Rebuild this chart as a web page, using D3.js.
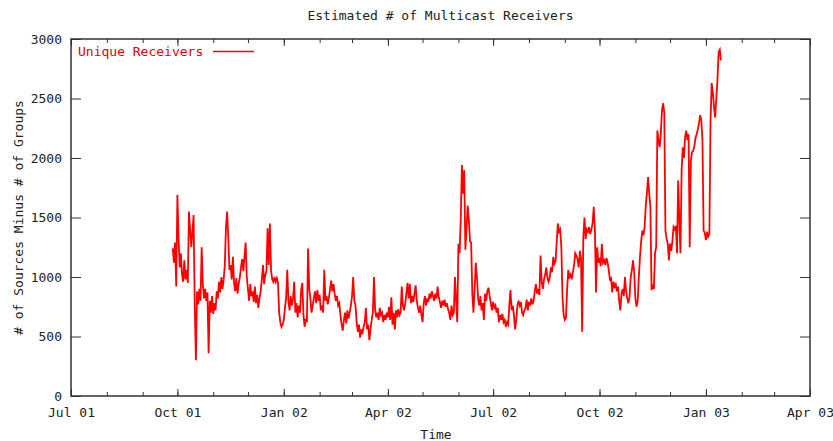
<!DOCTYPE html>
<html>
<head>
<meta charset="utf-8">
<script src="https://cdn.jsdelivr.net/npm/d3@7"></script>
<style>
  html, body { margin: 0; padding: 0; background: #fff; }
  svg { display: block; }
  text { font-family: "DejaVu Sans Mono", "Liberation Mono", monospace; font-size: 13px; fill: #222; }
</style>
</head>
<body>
<svg id="chart" width="833" height="441"></svg>
<script>
// Daily estimate of unique multicast receivers, one value per day from the start date
const seriesName = "Unique Receivers";
const seriesStart = "2001-09-27";
const receivers = [
  1240,1120,1290,920,1690,1330,1080,
  1200,1020,960,1140,980,1060,950,
  1550,1400,1250,1380,1520,
  760,300,
  880,770,900,800,
  1250,
  940,820,900,800,870,
  360,
  800,700,840,690,780,720,
  880,820,960,870,1000,900,980,
  1100,1420,1550,
  1330,1060,1100,980,1170,950,
  880,990,860,940,1000,
  1080,1150,1050,1170,1290,1000,
  900,800,940,840,880,790,920,
  780,850,740,820,
  880,980,1100,940,1020,
  1050,1410,1100,1450,1050,
  980,960,1000,960,990,950,
  700,620,580,
  600,640,
  740,820,1060,800,
  720,840,760,820,
  960,
  700,780,660,760,700,
  890,950,
  680,580,650,620,
  1240,
  900,820,700,760,
  820,880,780,890,800,850,
  720,760,700,
  1060,
  800,840,770,820,
  900,970,880,940,860,
  800,840,760,780,
  680,600,550,
  640,700,610,720,650,700,
  760,840,1000,800,760,
  620,540,600,490,560,520,
  580,620,740,560,600,470,
  560,640,
  700,1000,
  720,660,700,640,740,680,
  700,620,680,640,700,660,750,640,
  830,600,700,560,
  720,660,730,680,700,
  920,
  760,720,780,
  860,950,820,940,
  780,840,790,860,930,800,
  740,700,760,680,620,
  780,840,760,820,790,
  860,820,880,840,
  800,860,820,920,830,
  790,740,800,760,810,750,780,
  730,700,640,760,680,
  700,1000,800,620,
  1280,1200,1480,
  1940,1700,1900,
  1230,
  1400,1600,
  1480,1300,1290,
  860,700,
  900,1120,
  1000,
  820,760,840,720,780,640,
  860,800,880,910,840,
  780,720,790,740,760,700,740,620,
  680,640,690,620,
  640,580,620,600,
  760,890,720,760,
  680,560,640,
  760,800,760,790,
  700,680,720,
  740,810,720,790,760,820,
  770,800,
  880,940,860,900,
  850,
  1180,
  960,900,980,
  1020,1080,990,
  960,1000,
  1080,1040,1170,
  1110,1130,
  1300,1450,1380,1400,
  1250,
  830,
  680,640,660,
  900,1060,1000,
  1020,980,1040,
  1100,1200,1180,
  1150,1080,1220,
  1150,540,
  1340,
  1500,1320,
  1400,
  1380,1420,1360,
  1400,1450,1590,
  1400,
  870,
  1250,
  1120,1160,1090,1280,1120,
  1140,1100,1160,1120,
  1060,980,
  990,870,960,920,
  940,880,920,800,720,
  860,900,840,1000,880,
  820,780,840,
  1000,1060,1140,1040,
  820,750,800,
  1000,1170,1300,
  1390,1350,1420,
  1600,1710,1840,
  1700,1590,
  890,
  920,900,
  1200,1250,
  2230,
  2150,2090,2200,
  2400,2460,2380,
  1390,
  1320,1280,
  1140,
  1280,1220,1300,
  1420,1400,1430,
  1200,
  1810,
  1480,
  1200,
  1900,2090,2000,
  2180,2230,2150,2200,
  1250,
  1980,2050,
  2060,2100,
  2170,2200,
  2240,2290,2360,2320,2150,
  1390,1370,1310,1380,1340,1360,
  2320,2630,2550,2430,2340,2500,2660,2890,2910,2820
];

// Axis settings
const xDomain = ["2001-07-01", "2003-04-01"];
const yTicks = [0, 500, 1000, 1500, 2000, 2500, 3000];
const titleText = "Estimated # of Multicast Receivers";
const xLabel = "Time";
const yLabel = "# of Sources Minus # of Groups";

const parse = d3.timeParse("%Y-%m-%d");
const start = parse(seriesStart);

const svg = d3.select("#chart");
const plot = { left: 71, right: 810, top: 39, bottom: 396 };

const x = d3.scaleTime().domain(xDomain.map(parse)).range([plot.left, plot.right]);
const y = d3.scaleLinear().domain([0, 3000]).range([plot.bottom, plot.top]);

const axisColor = "#333";
const quarters = d3.timeMonth.every(3);
const months = d3.timeMonth.every(1);

function styleAxis(g) {
  g.select(".domain").remove();
  g.selectAll(".tick line").attr("stroke", axisColor).attr("stroke-width", 1);
  g.selectAll(".tick text").attr("fill", "#222")
    .style("font-family", '"DejaVu Sans Mono", monospace').style("font-size", "13px");
}

// bottom: monthly minor ticks, quarterly major ticks with labels
svg.append("g").attr("transform", `translate(0,${plot.bottom})`)
  .call(d3.axisBottom(x).ticks(months).tickSize(-4).tickFormat(""))
  .call(styleAxis);
svg.append("g").attr("transform", `translate(0,${plot.bottom})`)
  .call(d3.axisBottom(x).ticks(quarters).tickSize(-7).tickPadding(12).tickFormat(d3.timeFormat("%b %y")))
  .call(styleAxis);

// top mirror ticks
svg.append("g").attr("transform", `translate(0,${plot.top})`)
  .call(d3.axisTop(x).ticks(months).tickSize(-4).tickFormat(""))
  .call(styleAxis);
svg.append("g").attr("transform", `translate(0,${plot.top})`)
  .call(d3.axisTop(x).ticks(quarters).tickSize(-7).tickFormat(""))
  .call(styleAxis);

// left axis with labels, right mirror ticks
svg.append("g").attr("transform", `translate(${plot.left},0)`)
  .call(d3.axisLeft(y).tickValues(yTicks).tickSize(-10).tickPadding(9).tickFormat(d3.format("d")))
  .call(styleAxis);
svg.append("g").attr("transform", `translate(${plot.right},0)`)
  .call(d3.axisRight(y).tickValues(yTicks).tickSize(-10).tickFormat(""))
  .call(styleAxis);

// plot frame
svg.append("rect")
  .attr("x", plot.left).attr("y", plot.top)
  .attr("width", plot.right - plot.left).attr("height", plot.bottom - plot.top)
  .attr("fill", "none").attr("stroke", axisColor).attr("stroke-width", 1.5);

// series line
const line = d3.line()
  .x((d, i) => x(d3.timeDay.offset(start, i)))
  .y(d => y(d));

svg.append("path")
  .datum(receivers)
  .attr("d", line)
  .attr("fill", "none")
  .attr("stroke", "#ff0000")
  .attr("stroke-width", 1.8)
  .attr("stroke-linejoin", "miter");

// legend
svg.append("text").attr("x", 78).attr("y", 56)
  .style("fill", "#e00000").text(seriesName);
svg.append("line").attr("x1", 213).attr("x2", 254).attr("y1", 51.5).attr("y2", 51.5)
  .attr("stroke", "#ff0000").attr("stroke-width", 1.3);

// title and axis labels
svg.append("text").attr("x", (plot.left + plot.right) / 2).attr("y", 20)
  .attr("text-anchor", "middle").text(titleText);
svg.append("text").attr("x", 436).attr("y", 439)
  .attr("text-anchor", "middle").text(xLabel);
svg.append("text")
  .attr("transform", `translate(23,${(plot.top + plot.bottom) / 2}) rotate(-90)`)
  .attr("text-anchor", "middle").text(yLabel);
</script>
</body>
</html>
